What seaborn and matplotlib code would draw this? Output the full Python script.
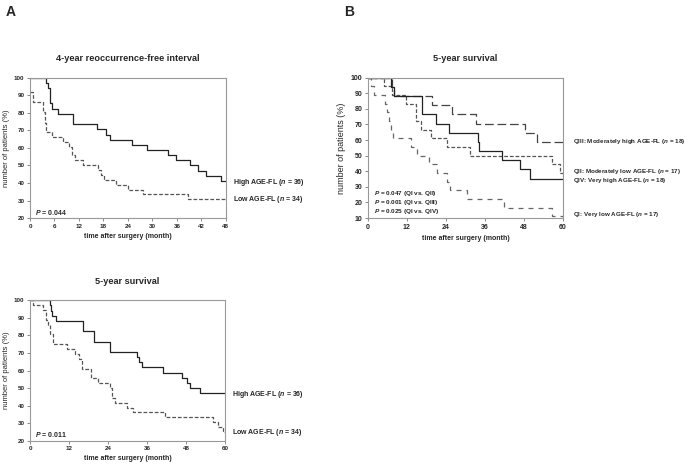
import pandas as pd
import matplotlib.pyplot as plt
import seaborn as sns

sns.set_style('ticks')
plt.rcParams['font.family'] = ['Liberation Sans', 'DejaVu Sans']
plt.rcParams['mathtext.fontset'] = 'custom'
plt.rcParams['mathtext.it'] = 'Liberation Sans:italic:bold'
plt.rcParams['mathtext.rm'] = 'Liberation Sans:bold'

# A top: 4-year reoccurrence-free interval
rfi_high_t = [0, 3.9, 4.3, 4.9, 5.3, 6.9, 10.6, 16.3, 18.6, 19.6, 25.1, 28.7, 33.9, 35.8, 39.2, 41.2, 43.1, 46.9]
rfi_high_v = [100, 97.1, 94.1, 85.3, 82.4, 79.4, 73.5, 70.6, 67.6, 64.7, 61.8, 58.8, 55.9, 52.9, 50.0, 47.1, 44.1, 41.2]
rfi_low_t = [0, 0.8, 3.3, 3.6, 3.9, 5.3, 8.2, 9.6, 10.2, 11.0, 12.9, 16.7, 17.3, 18.2, 21.0, 24.0, 27.8, 38.8]
rfi_low_v = [92.0, 86.3, 80.6, 74.0, 69.2, 66.4, 63.5, 60.7, 55.9, 53.0, 50.2, 47.4, 44.5, 41.8, 39.0, 36.1, 33.6, 30.6]

# A bottom: 5-year survival
os_high_t = [0, 6.1, 6.5, 6.9, 7.9, 16.4, 19.7, 24.6, 33.0, 33.6, 34.3, 41.0, 46.6, 48.1, 49.1, 52.2]
os_high_v = [100, 97.1, 94.1, 91.2, 88.2, 82.4, 76.5, 70.6, 67.6, 64.7, 61.8, 58.8, 55.9, 52.9, 50.0, 47.1]
os_low_t = [0, 1.0, 3.9, 4.9, 5.6, 6.1, 7.0, 11.3, 13.8, 15.2, 15.9, 18.9, 21.0, 24.6, 25.1, 26.1, 29.7, 31.7, 41.5, 56.3, 57.8, 59.4]
os_low_v = [100, 97.2, 94.4, 88.9, 86.1, 80.6, 75.0, 72.2, 69.4, 66.7, 61.1, 55.6, 52.8, 50.0, 44.4, 41.7, 38.9, 36.1, 33.3, 30.6, 27.8, 25.0]

# B: 5-year survival by quartile
q1_t = [0, 1.0, 2.0, 5.2, 5.8, 6.5, 7.0, 7.6, 13.2, 15.1, 18.7, 21.3, 24.4, 25.3, 30.5, 41.7, 56.5]
q1_v = [100, 94.4, 88.9, 83.3, 77.8, 72.2, 66.7, 61.1, 55.6, 50.0, 44.4, 38.9, 33.3, 27.8, 22.2, 16.7, 11.1]
q2_t = [0, 4.9, 7.5, 11.6, 14.7, 16.2, 19.3, 24.4, 31.5, 56.6, 59.2]
q2_v = [100, 94.4, 88.9, 83.3, 72.2, 66.7, 61.1, 55.6, 50.0, 44.4, 38.9]
q3_t = [0, 7.3, 8.0, 19.8, 25.9, 33.2, 48.4, 52.0]
q3_v = [100, 94.1, 88.2, 82.4, 76.5, 70.6, 64.7, 58.8]
q4_t = [0, 7.0, 8.0, 16.7, 21.0, 24.9, 34.0, 34.3, 41.2, 46.9, 49.9]
q4_v = [100, 94.1, 88.2, 76.5, 70.6, 64.7, 58.8, 52.9, 47.1, 41.2, 35.3]


def km(ax, t, v, end, **kw):
    df = pd.DataFrame({'t': t + [end], 'v': v + [v[-1]]})
    sns.lineplot(data=df, x='t', y='v', ax=ax, drawstyle='steps-post',
                 estimator=None, sort=False, **kw)


def style_axes(ax, xmax, xstep, ymin, title, ylab_size):
    ax.set_xlim(0, xmax)
    ax.set_ylim(ymin, 100)
    ax.set_xticks(range(0, xmax + 1, xstep))
    ax.set_yticks(range(ymin, 101, 10))
    for s in ax.spines.values():
        s.set_color('#999999')
        s.set_linewidth(0.8)
    ax.tick_params(length=2, width=0.6, color='#777777', labelsize=4.5, pad=2)
    for lab in ax.get_xticklabels() + ax.get_yticklabels():
        lab.set_fontweight('bold')
    ax.set_xlabel('time after surgery (month)', fontsize=5, fontweight='bold', labelpad=3)
    ax.set_ylabel('number of patients (%)', fontsize=ylab_size, labelpad=3)
    ax.set_title(title, fontsize=6.6, fontweight='bold', pad=12)


fig = plt.figure(figsize=(6.85, 4.68), dpi=100)
ax1 = fig.add_axes([0.0438, 0.534, 0.286, 0.300])
ax2 = fig.add_axes([0.0438, 0.0583, 0.285, 0.300])
ax3 = fig.add_axes([0.537, 0.534, 0.285, 0.300])

solid = dict(color='#222222', linewidth=0.9)
dash = dict(color='#555555', linewidth=0.9, linestyle=(0, (3, 1.5)))

km(ax1, rfi_high_t, rfi_high_v, 48, **solid)
km(ax1, rfi_low_t, rfi_low_v, 48, **dash)
style_axes(ax1, 48, 6, 20, '4-year reoccurrence-free interval', 5.5)
ax1.text(49.7, 40.1, 'High AGE-FL ($n$ = 36)', fontsize=5, fontweight='bold', va='center', clip_on=False)
ax1.text(49.7, 30.7, 'Low AGE-FL ($n$ = 34)', fontsize=5, fontweight='bold', va='center', clip_on=False)
ax1.text(1.2, 23, '$P$ = 0.044', fontsize=5, fontweight='bold', va='center')

km(ax2, os_high_t, os_high_v, 60, **solid)
km(ax2, os_low_t, os_low_v, 60, **dash)
style_axes(ax2, 60, 12, 20, '5-year survival', 5.5)
ax2.text(62, 46.4, 'High AGE-FL ($n$ = 36)', fontsize=5, fontweight='bold', va='center', clip_on=False)
ax2.text(62, 24.5, 'Low AGE-FL ($n$ = 34)', fontsize=5, fontweight='bold', va='center', clip_on=False)
ax2.text(1.5, 23.8, '$P$ = 0.011', fontsize=5, fontweight='bold', va='center')

km(ax3, q1_t, q1_v, 60, color='#666666', linewidth=0.9, linestyle=(0, (4, 4)))
km(ax3, q2_t, q2_v, 60, color='#555555', linewidth=0.9, linestyle=(0, (3, 1.5)))
km(ax3, q3_t, q3_v, 60, color='#444444', linewidth=0.9, linestyle=(0, (7, 3)))
km(ax3, q4_t, q4_v, 60, **solid)
style_axes(ax3, 60, 12, 10, '5-year survival', 6.5)
for lab in ax3.get_xticklabels() + ax3.get_yticklabels():
    lab.set_fontsize(5)
q_labels = [(59.0, 'QIII: Moderately high AGE-FL ($n$ = 18)'),
            (40.1, 'QII: Moderately low AGE-FL ($n$ = 17)'),
            (34.4, 'QIV: Very high AGE-FL ($n$ = 18)'),
            (12.6, 'QI: Very low AGE-FL ($n$ = 17)')]
for y, s in q_labels:
    ax3.text(62.9, y, s, fontsize=4.5, fontweight='bold', va='center', clip_on=False)
p_lines = [(25.8, '$P$ = 0.047 (QI vs. QII)'),
           (19.9, '$P$ = 0.001 (QI vs. QIII)'),
           (14.0, '$P$ = 0.025 (QI vs. QIV)')]
for y, s in p_lines:
    ax3.text(1.9, y, s, fontsize=4.6, fontweight='bold', va='center')

fig.text(0.008, 0.975, 'A', fontsize=10, fontweight='bold', va='center')
fig.text(0.503, 0.975, 'B', fontsize=10, fontweight='bold', va='center')

fig.savefig('out.png', dpi=100, facecolor='white')
